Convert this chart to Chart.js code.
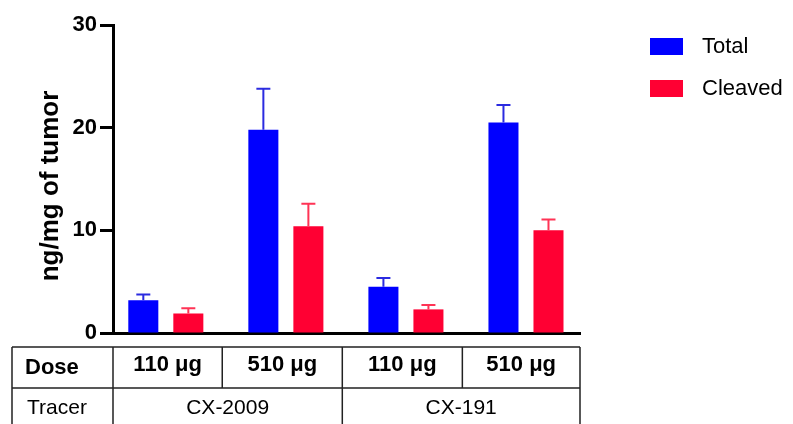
<!DOCTYPE html>
<html>
<head>
<meta charset="utf-8">
<script src="https://cdn.jsdelivr.net/npm/chart.js@4.4.1/dist/chart.umd.min.js"></script>
<style>
  html, body { margin: 0; padding: 0; background: #fff; }
  #wrap { width: 793px; height: 424px; }
</style>
</head>
<body>
<div id="wrap"><canvas id="chart" width="793" height="424"></canvas></div>
<script>
  const doses = ["110 \u03bcg", "510 \u03bcg", "110 \u03bcg", "510 \u03bcg"];
  const tracers = ["CX-2009", "CX-191"];
  const seriesNames = ["Total", "Cleaved"];
  const totalValues = [3.2, 19.8, 4.5, 20.5];
  const totalErrors = [0.55, 4.0, 0.85, 1.7];
  const cleavedValues = [1.9, 10.4, 2.3, 10.0];
  const cleavedErrors = [0.5, 2.2, 0.42, 1.05];
  const yTicks = [0, 10, 20, 30];

  const BLUE = "#0000ff";
  const RED = "#ff0033";
  const FONT = "'Liberation Sans', Arial, sans-serif";

  // group index on a linear x scale, so the axis ends can sit off-centre
  const toPoints = (vals) => vals.map((v, k) => ({ x: k, y: v }));

  // error bars (upper only), drawn off the bar elements and the y scale
  const errorBars = {
    id: "errorBars",
    afterDatasetsDraw(chart) {
      const ctx = chart.ctx;
      const y = chart.scales.y;
      chart.data.datasets.forEach((ds, i) => {
        const meta = chart.getDatasetMeta(i);
        meta.data.forEach((bar, j) => {
          const top = y.getPixelForValue(ds.data[j].y + ds.errors[j]);
          ctx.save();
          ctx.strokeStyle = ds.errorColor;
          ctx.lineWidth = 2;
          ctx.beginPath();
          ctx.moveTo(bar.x, bar.y);
          ctx.lineTo(bar.x, top);
          ctx.moveTo(bar.x - 7, top);
          ctx.lineTo(bar.x + 7, top);
          ctx.stroke();
          ctx.restore();
        });
      });
    },
  };

  // y title, legend and the dose / tracer table under the axis
  const extras = {
    id: "extras",
    afterDraw(chart) {
      const ctx = chart.ctx;
      const x = chart.scales.x;
      const area = chart.chartArea;
      ctx.save();

      // y axis title
      ctx.save();
      ctx.translate(51, 186);
      ctx.rotate(-Math.PI / 2);
      ctx.font = "bold 26px " + FONT;
      ctx.fillStyle = "#000";
      ctx.textAlign = "center";
      ctx.textBaseline = "middle";
      ctx.fillText("ng/mg of tumor", 0, 0);
      ctx.restore();

      // legend
      chart.data.datasets.forEach((ds, i) => {
        const ly = 38 + i * 42;
        ctx.fillStyle = ds.backgroundColor;
        ctx.fillRect(650, ly, 33, 17);
        ctx.fillStyle = "#000";
        ctx.font = "22px " + FONT;
        ctx.textAlign = "left";
        ctx.textBaseline = "middle";
        ctx.fillText(ds.label, 702, ly + 9);
      });

      // table
      const n = doses.length;
      const edges = [area.left];
      for (let k = 0; k < n - 1; k++) edges.push(x.getPixelForValue(k + 0.47));
      edges.push(area.right);
      const t0 = 347, t1 = 388, t2 = 430, tl = 12;

      ctx.strokeStyle = "#222";
      ctx.lineWidth = 1.5;
      ctx.beginPath();
      ctx.moveTo(tl, t0); ctx.lineTo(edges[n], t0);
      ctx.moveTo(tl, t1); ctx.lineTo(edges[n], t1);
      ctx.moveTo(tl, t0); ctx.lineTo(tl, t2);
      ctx.moveTo(edges[0], t0); ctx.lineTo(edges[0], t2);
      ctx.moveTo(edges[n], t0); ctx.lineTo(edges[n], t2);
      for (let k = 1; k < n; k++) {
        ctx.moveTo(edges[k], t0);
        ctx.lineTo(edges[k], k === n / 2 ? t2 : t1);
      }
      ctx.stroke();

      ctx.fillStyle = "#000";
      ctx.textBaseline = "middle";
      ctx.textAlign = "left";
      ctx.font = "bold 22px " + FONT;
      ctx.fillText("Dose", 25, 368);
      ctx.font = "21px " + FONT;
      ctx.fillText("Tracer", 27, 408);

      ctx.textAlign = "center";
      ctx.font = "bold 22px " + FONT;
      doses.forEach((d, k) => {
        ctx.fillText(d, (edges[k] + edges[k + 1]) / 2, 365);
      });
      ctx.font = "21px " + FONT;
      tracers.forEach((t, k) => {
        ctx.fillText(t, (edges[k * 2] + edges[k * 2 + 2]) / 2, 408);
      });

      ctx.restore();
    },
  };

  new Chart(document.getElementById("chart"), {
    type: "bar",
    data: {
      datasets: [
        {
          label: seriesNames[0],
          data: toPoints(totalValues),
          errors: totalErrors,
          backgroundColor: BLUE,
          errorColor: "#2b2be0",
          categoryPercentage: 0.75,
          barPercentage: 0.667,
        },
        {
          label: seriesNames[1],
          data: toPoints(cleavedValues),
          errors: cleavedErrors,
          backgroundColor: RED,
          errorColor: "#ff3355",
          categoryPercentage: 0.75,
          barPercentage: 0.667,
        },
      ],
    },
    options: {
      responsive: false,
      animation: false,
      layout: { padding: { top: 25, right: 213, left: 0, bottom: 0 } },
      scales: {
        x: {
          type: "linear",
          min: -0.44,
          max: 3.45,
          offset: false,
          // one hidden tick per group keeps the bar width at a full group
          afterBuildTicks: (s) => { s.ticks = doses.map((d, k) => ({ value: k })); },
          grid: { display: false, offset: false },
          ticks: { display: false },
          border: { display: true, color: "#000", width: 3 },
          afterFit: (s) => { s.height = 91; },
        },
        y: {
          min: 0,
          max: 30,
          afterBuildTicks: (s) => { s.ticks = yTicks.map((v) => ({ value: v })); },
          grid: {
            drawOnChartArea: false,
            drawTicks: true,
            tickLength: 13,
            tickWidth: 3,
            color: "#000",
          },
          border: { display: true, color: "#000", width: 3 },
          ticks: {
            color: "#000",
            padding: 3,
            font: { family: FONT, size: 22, weight: "bold" },
          },
          afterFit: (s) => { s.width = 113; },
        },
      },
      plugins: {
        legend: { display: false },
        tooltip: { enabled: false },
      },
    },
    plugins: [errorBars, extras],
  });
</script>
</body>
</html>
